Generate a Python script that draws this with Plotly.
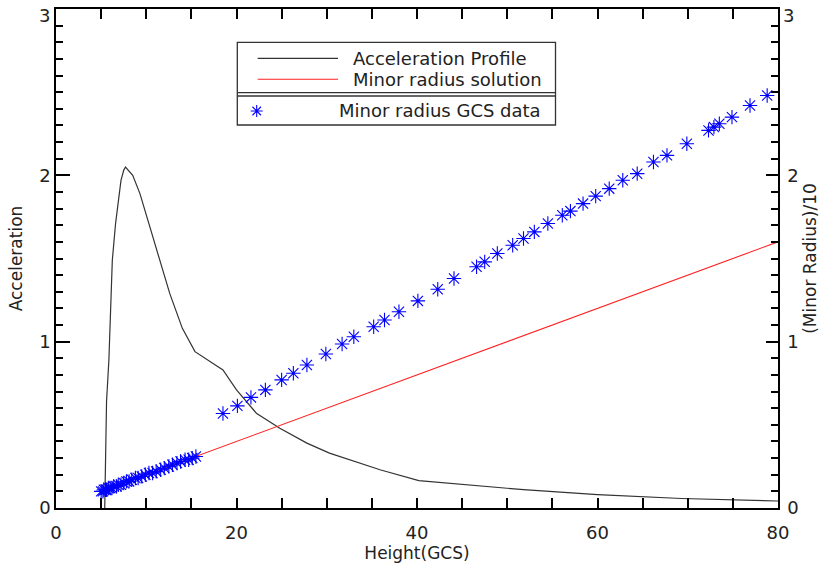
import plotly.graph_objects as go

# ---------------- data ----------------
accel_height = [5.40, 5.45, 5.50, 5.60, 5.86, 6.24, 6.60, 7.20, 7.50, 7.70, 8.50, 9.30,
                10.4, 11.5, 12.6, 14.0, 15.4, 18.5, 20.0, 22.2, 24.8, 27.8, 30.3,
                35.9, 40.2, 51.8, 60.0, 69.3, 80.0]
accel_value = [0.00, 0.20, 0.35, 0.64, 0.89, 1.49, 1.71, 1.97, 2.03, 2.05, 2.00, 1.89,
               1.69, 1.49, 1.29, 1.08, 0.94, 0.83, 0.71, 0.57, 0.48, 0.39, 0.33,
               0.23, 0.165, 0.11, 0.08, 0.057, 0.042]

solution_height = [5.4, 80.0]
solution_radius = [0.108, 1.60]

gcs_height = [5.0, 5.2, 5.3, 5.5, 5.6, 5.8, 6.0, 6.2, 6.4, 6.7, 6.9, 7.2, 7.5, 7.8,
              8.1, 8.4, 8.8, 9.1, 9.5, 9.9, 10.3, 10.7, 11.1, 11.6, 12.0, 12.5, 12.9,
              13.4, 13.8, 14.3, 14.7, 15.1, 15.5,
              18.5, 20.1, 21.6, 23.2, 25.0, 26.3, 27.8, 29.9, 31.7, 33.0, 35.2, 36.4,
              38.0, 40.1, 42.3, 44.1, 46.6, 47.5, 48.9, 50.6, 51.8, 53.0, 54.5, 56.1,
              57.0, 58.4, 59.8, 61.3, 62.8, 64.4, 66.2, 67.7, 69.9, 72.3, 72.9, 73.5,
              74.9, 76.9, 78.8]
gcs_radius = [0.10, 0.10, 0.11, 0.11, 0.11, 0.12, 0.12, 0.12, 0.13, 0.13, 0.14, 0.14,
              0.15, 0.16, 0.16, 0.17, 0.18, 0.18, 0.19, 0.20, 0.21, 0.21, 0.22, 0.23,
              0.24, 0.25, 0.26, 0.27, 0.28, 0.29, 0.29, 0.30, 0.31,
              0.568, 0.614, 0.665, 0.71, 0.77, 0.81, 0.86, 0.926, 0.986, 1.03, 1.09,
              1.13, 1.18, 1.245, 1.315, 1.38, 1.45, 1.48, 1.53, 1.58, 1.62, 1.66, 1.71,
              1.76, 1.785, 1.83, 1.875, 1.92, 1.97, 2.01, 2.08, 2.12, 2.19, 2.27, 2.29,
              2.31, 2.35, 2.42, 2.48]

x_ticks = [0, 20, 40, 60, 80]
y_ticks = [0, 1, 2, 3]
y_tick_text = ["0", "1", "2", ""]   # the top label "3" sits just inside the frame (see below)
y_top_label = "3"

legend_names = ["Acceleration Profile", "Minor radius solution", "Minor radius GCS data"]

# ---------------- layout constants ----------------
W, H = 821, 566
L, R, T, B = 56, 778, 9, 508
FONT = "DejaVu Sans"
TXT = "#222222"
BLUE = "#0000ff"
RED = "#ff2020"
BLACK_LINE = "#333333"


def px(x):
    return (x - L) / (R - L)


def py(y):
    return (B - y) / (B - T)


fig = go.Figure()
fig.add_trace(go.Scatter(x=accel_height, y=accel_value, mode="lines",
                         line=dict(color=BLACK_LINE, width=1.2),
                         name=legend_names[0], showlegend=False))
fig.add_trace(go.Scatter(x=solution_height, y=solution_radius, mode="lines",
                         line=dict(color=RED, width=1.1),
                         name=legend_names[1], showlegend=False, yaxis="y2"))
fig.add_trace(go.Scatter(x=gcs_height, y=gcs_radius, mode="markers",
                         marker=dict(symbol="asterisk-open", size=12,
                                     color=BLUE, line=dict(color=BLUE, width=1.1)),
                         name=legend_names[2], showlegend=False, yaxis="y2"))

axis_common = dict(showgrid=False, zeroline=False, showline=True, linecolor="black",
                   linewidth=1.5, ticks="inside", tickcolor="black", automargin=False,
                   ticklabeloverflow="allow",
                   tickfont=dict(family=FONT, size=18, color=TXT))

fig.update_layout(
    width=W, height=H, autosize=False,
    margin=dict(l=L, r=W - R, t=T, b=H - B, pad=0),
    paper_bgcolor="white", plot_bgcolor="white",
    showlegend=False,
    xaxis=dict(range=[0, 80], tickvals=x_ticks, ticklen=10, tickwidth=1.5,
               mirror="allticks", ticklabelstandoff=8,
               minor=dict(dtick=5, ticklen=5, ticks="inside", tickcolor="black", tickwidth=1.5),
               title=dict(text="Height(GCS)", standoff=3,
                          font=dict(family=FONT, size=17, color=TXT)),
               **axis_common),
    yaxis=dict(range=[0, 3], tickvals=y_ticks, ticktext=y_tick_text, ticklen=14,
               tickwidth=1.5, mirror=True, ticklabelstandoff=0,
               minor=dict(dtick=0.1, ticklen=7, ticks="inside", tickcolor="black", tickwidth=1.5),
               title=dict(text="Acceleration", standoff=12,
                          font=dict(family=FONT, size=17, color=TXT)),
               **axis_common),
    yaxis2=dict(range=[0, 3], tickvals=y_ticks, ticktext=y_tick_text, ticklen=12,
                tickwidth=1.5, overlaying="y", side="right", ticklabelstandoff=4,
                minor=dict(dtick=0.1, ticklen=7, ticks="inside", tickcolor="black", tickwidth=1.5),
                title=dict(text="(Minor Radius)/10", standoff=6,
                           font=dict(family=FONT, size=17, color=TXT)),
                **axis_common),
)

# ---------------- hand-drawn legend box (IDL style) ----------------
shapes = []
bx0, bx1, by0, by1 = 237.3, 555.5, 42.3, 125.0
shapes.append(dict(type="rect", xref="paper", yref="paper",
                   x0=px(bx0), x1=px(bx1), y0=py(by1), y1=py(by0),
                   line=dict(color="#333333", width=1.3), fillcolor="rgba(0,0,0,0)"))
for yy in (92.7, 96.0):
    shapes.append(dict(type="line", xref="paper", yref="paper",
                       x0=px(bx0), x1=px(bx1), y0=py(yy), y1=py(yy),
                       line=dict(color="#333333", width=1.3)))
# line samples
shapes.append(dict(type="line", xref="paper", yref="paper",
                   x0=px(257.7), x1=px(338), y0=py(58.3), y1=py(58.3),
                   line=dict(color=BLACK_LINE, width=1.2)))
shapes.append(dict(type="line", xref="paper", yref="paper",
                   x0=px(257.7), x1=px(338), y0=py(79.3), y1=py(79.3),
                   line=dict(color=RED, width=1.1)))
# asterisk sample
cx, cy, r = 256.7, 111.0, 6.0
d = r * 0.7071
segs = [(-r, 0, r, 0), (0, -r, 0, r), (-d, -d, d, d), (-d, d, d, -d)]
path = " ".join(f"M{px(cx + a):.5f},{py(cy + b):.5f} L{px(cx + c):.5f},{py(cy + e):.5f}"
                for a, b, c, e in segs)
shapes.append(dict(type="path", xref="paper", yref="paper", path=path,
                   line=dict(color=BLUE, width=1.1)))
fig.update_layout(shapes=shapes)

ann = []
for name, xl, yc in zip(legend_names, [351.0, 350.5, 336.5], [58.3, 79.5, 110.5]):
    ann.append(dict(text=name, xref="paper", yref="paper", x=px(xl), y=py(yc),
                    xanchor="left", yanchor="middle", showarrow=False,
                    font=dict(family=FONT, size=18, color=TXT)))
# top "3" labels of both y axes, nudged just below the frame like the original
for xp, anchor in ((px(52), "right"), (px(781), "left")):
    ann.append(dict(text=y_top_label, xref="paper", yref="y", x=xp, y=y_ticks[-1],
                    xanchor=anchor, yanchor="middle", yshift=-6, showarrow=False,
                    font=dict(family=FONT, size=18, color=TXT)))
fig.update_layout(annotations=ann)

fig.write_html("out.html", config={"displayModeBar": False},
               post_script="document.body.style.margin='0';document.body.style.padding='0';")
